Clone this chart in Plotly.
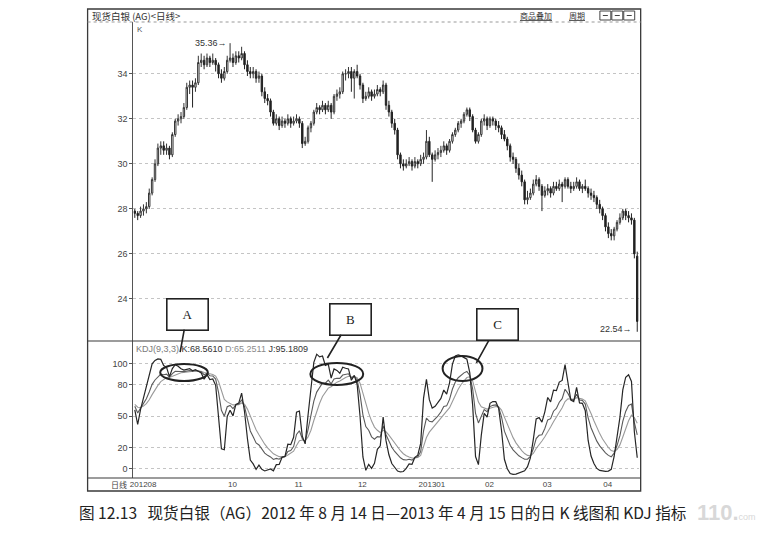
import plotly.graph_objects as go

# page body has an 8px margin: the figure is sized to fit the 776x533 window exactly
OFF = 8
FW, FH = 776 - 2 * OFF, 533 - 2 * OFF

# ---------------- data ----------------
month_ticks = [0, 34, 57, 79, 100, 123, 143, 164]
month_labels = ["201208", "10", "11", "12", "201301", "02", "03", "04"]
price_ticks = [24, 26, 28, 30, 32, 34]
kdj_ticks = [0, 20, 50, 80, 100]

opens = [27.9, 27.8, 27.7, 27.9, 28.0, 28.1, 28.7, 29.3, 30.0, 30.7, 30.8, 30.6, 30.7, 30.4, 31.3, 31.9, 32.0, 32.1, 32.5, 33.4,
         33.5, 33.4, 33.6, 34.5, 34.6, 34.4, 34.7, 34.5, 34.6, 34.4, 34.0, 33.8, 34.1, 34.6, 34.7, 34.5, 34.8, 34.7, 34.9, 34.4,
         34.1, 34.0, 34.1, 33.8, 33.9, 33.2, 32.9, 32.8, 32.3, 31.8, 32.0, 31.7, 31.9, 31.8, 32.0, 31.8, 31.9, 32.0, 31.8, 30.9,
         31.0, 31.6, 31.8, 32.3, 32.5, 32.4, 32.6, 32.4, 32.6, 32.3, 33.0, 33.1, 33.2, 34.0, 34.0, 34.1, 33.8, 34.1, 33.9, 33.5,
         32.9, 33.0, 33.2, 33.0, 33.1, 33.3, 33.2, 33.5, 32.6, 32.3, 31.8, 31.5, 30.4, 30.0, 29.9, 30.0, 30.1, 29.9, 30.1, 30.0,
         30.2, 30.3, 31.0, 30.4, 30.2, 30.4, 30.5, 30.6, 30.8, 30.6, 31.0, 31.3, 31.5, 31.8, 31.9, 32.2, 32.4, 32.1, 31.5, 31.0,
         31.3, 31.9, 32.0, 31.7, 32.0, 31.9, 31.7, 31.6, 31.3, 31.1, 30.8, 30.3, 30.2, 29.8, 29.5, 29.2, 28.4, 28.5, 28.7, 29.1,
         29.3, 29.0, 28.6, 28.8, 28.9, 28.7, 29.0, 28.9, 29.1, 29.0, 29.3, 29.0, 28.9, 29.0, 29.2, 28.9, 29.0, 28.9, 28.7, 28.6,
         28.5, 28.2, 28.0, 27.7, 27.2, 26.9, 26.8, 27.1, 27.4, 27.6, 27.9, 27.7, 27.6, 27.5, 25.9]
highs = [28.0, 27.9, 28.1, 28.2, 28.3, 28.9, 29.4, 30.2, 30.9, 31.0, 31.0, 30.9, 30.8, 31.4, 32.0, 32.2, 32.3, 32.7, 33.6, 33.7,
         33.7, 33.8, 34.8, 34.9, 34.8, 34.9, 34.8, 34.9, 34.7, 34.5, 34.2, 34.3, 34.8, 35.36, 34.9, 35.0, 35.0, 35.2, 35.0, 34.6,
         34.3, 34.3, 34.2, 34.1, 34.0, 33.4, 33.1, 32.9, 32.4, 32.2, 32.1, 32.1, 32.0, 32.2, 32.1, 32.1, 32.2, 32.1, 31.9, 31.2,
         31.7, 31.9, 32.4, 32.7, 32.6, 32.8, 32.7, 32.8, 32.7, 33.1, 33.3, 33.4, 34.1, 34.2, 34.3, 34.3, 34.2, 34.4, 34.0, 33.6,
         33.2, 33.4, 33.3, 33.3, 33.5, 33.4, 33.7, 33.6, 32.8, 32.4, 32.0, 31.6, 30.5, 30.2, 30.2, 30.3, 30.2, 30.3, 30.2, 30.4,
         30.5, 31.5, 31.2, 30.5, 30.6, 30.7, 30.8, 31.0, 30.9, 31.1, 31.4, 31.6, 31.9, 32.0, 32.3, 32.5, 32.5, 32.2, 31.6, 31.4,
         32.0, 32.2, 32.1, 32.1, 32.1, 32.0, 31.9, 31.7, 31.5, 31.2, 30.9, 30.5, 30.3, 30.0, 29.7, 29.3, 28.8, 28.9, 29.3, 29.5,
         29.4, 29.1, 29.0, 29.1, 29.0, 29.2, 29.2, 29.3, 29.2, 29.4, 29.4, 29.2, 29.2, 29.4, 29.3, 29.1, 29.3, 29.0, 28.9, 28.8,
         28.6, 28.4, 28.1, 27.8, 27.4, 27.1, 27.2, 27.5, 27.8, 28.0, 28.0, 27.9, 27.8, 27.6, 26.1]
lows = [27.6, 27.5, 27.6, 27.7, 27.8, 28.0, 28.6, 29.2, 29.9, 30.4, 30.4, 30.4, 30.2, 30.3, 31.2, 31.7, 31.8, 32.0, 32.4, 33.1,
        32.5, 33.2, 33.5, 34.3, 34.2, 34.3, 34.3, 34.4, 34.1, 33.8, 33.6, 33.7, 34.0, 34.5, 34.3, 34.4, 34.5, 34.6, 34.2, 33.9,
        33.8, 33.8, 33.6, 33.6, 33.0, 32.7, 32.6, 32.1, 31.7, 31.7, 31.5, 31.6, 31.6, 31.7, 31.6, 31.7, 31.8, 31.6, 30.7, 30.8,
        30.9, 31.4, 31.7, 32.2, 32.2, 32.3, 32.2, 32.3, 32.0, 32.2, 32.8, 32.9, 33.1, 33.7, 33.8, 33.2, 32.9, 33.8, 33.3, 32.7,
        32.8, 32.9, 32.8, 32.9, 33.0, 33.0, 33.1, 32.4, 32.1, 31.6, 31.3, 30.2, 29.8, 29.7, 29.8, 29.9, 29.7, 29.8, 29.8, 29.9,
        30.0, 30.2, 30.3, 29.2, 30.1, 30.2, 30.3, 30.5, 30.4, 30.5, 30.9, 31.2, 31.4, 31.6, 31.8, 32.1, 31.9, 31.4, 30.9, 30.9,
        31.2, 31.7, 31.5, 31.6, 31.7, 31.5, 31.4, 31.1, 31.0, 30.6, 30.1, 30.0, 29.6, 29.3, 29.0, 28.2, 28.2, 28.4, 28.6, 29.0,
        28.8, 27.9, 28.5, 28.6, 28.5, 28.6, 28.8, 28.8, 28.3, 28.9, 28.9, 28.7, 28.8, 28.9, 28.8, 28.7, 28.8, 28.5, 28.4, 28.3,
        28.0, 27.8, 27.5, 27.0, 26.7, 26.6, 26.6, 27.0, 27.3, 27.5, 27.5, 27.4, 27.3, 25.8, 22.54]
closes = [27.8, 27.7, 27.9, 28.0, 28.1, 28.7, 29.3, 30.0, 30.7, 30.8, 30.6, 30.7, 30.4, 31.3, 31.9, 32.0, 32.1, 32.5, 33.4, 33.5,
          33.4, 33.6, 34.5, 34.6, 34.4, 34.7, 34.5, 34.6, 34.4, 34.0, 33.8, 34.1, 34.6, 34.7, 34.5, 34.8, 34.7, 34.9, 34.4, 34.1,
          34.0, 34.1, 33.8, 33.9, 33.2, 32.9, 32.8, 32.3, 31.8, 32.0, 31.7, 31.9, 31.8, 32.0, 31.8, 31.9, 32.0, 31.8, 30.9, 31.0,
          31.6, 31.8, 32.3, 32.5, 32.4, 32.6, 32.4, 32.6, 32.3, 33.0, 33.1, 33.2, 34.0, 34.0, 34.1, 33.8, 34.1, 33.9, 33.5, 32.9,
          33.0, 33.2, 33.0, 33.1, 33.3, 33.2, 33.5, 32.6, 32.3, 31.8, 31.5, 30.4, 30.0, 29.9, 30.0, 30.1, 29.9, 30.1, 30.0, 30.2,
          30.3, 31.0, 30.4, 30.2, 30.4, 30.5, 30.6, 30.8, 30.6, 31.0, 31.3, 31.5, 31.8, 31.9, 32.2, 32.4, 32.1, 31.5, 31.0, 31.3,
          31.9, 32.0, 31.7, 32.0, 31.9, 31.7, 31.6, 31.3, 31.1, 30.8, 30.3, 30.2, 29.8, 29.5, 29.2, 28.4, 28.5, 28.7, 29.1, 29.3,
          29.0, 28.6, 28.8, 28.9, 28.7, 29.0, 28.9, 29.1, 29.0, 29.3, 29.0, 28.9, 29.0, 29.2, 28.9, 29.0, 28.9, 28.7, 28.6, 28.5,
          28.2, 28.0, 27.7, 27.2, 26.9, 26.8, 27.1, 27.4, 27.6, 27.9, 27.7, 27.6, 27.5, 26.0, 23.0]

# KDJ(9,3,3) seed values read at the left edge of the lower panel
K_START, D_START = 64.0, 62.0

n = len(closes)
idx = list(range(n))

# ---------------- KDJ(9,3,3) derived from the prices ----------------
K, D, J = [], [], []
k, d = K_START, D_START
for i in range(n):
    lo = min(lows[max(0, i - 8):i + 1])
    hi = max(highs[max(0, i - 8):i + 1])
    rsv = (closes[i] - lo) / (hi - lo) * 100 if hi > lo else 50
    k = (2 * k + rsv) / 3
    d = (2 * d + k) / 3
    K.append(k); D.append(d); J.append(3 * k - 2 * d)

# ---------------- layout geometry (window pixels) ----------------
def px(x): return (x - OFF) / FW
def py(y): return 1 - (y - OFF) / FH

X0, X1 = 130, 638
FRAME_L, FRAME_R, FRAME_T, FRAME_B = 84, 640, 9, 491
P_TOP, P_BOT = 22, 341
K_TOP, K_BOT = 341, 478

tickfont = dict(family="Liberation Sans, Arial", size=9, color="#444")
grid = dict(showgrid=True, gridcolor="#c4c4c4", griddash="dot", gridwidth=1)

fig = go.Figure()
fig.add_trace(go.Candlestick(
    x=idx, open=opens, high=highs, low=lows, close=closes,
    increasing=dict(line=dict(color="#333333", width=1), fillcolor="#ffffff"),
    decreasing=dict(line=dict(color="#222222", width=1), fillcolor="#222222"),
    whiskerwidth=0, xaxis="x", yaxis="y", showlegend=False, hoverinfo="skip"))

fig.add_trace(go.Scatter(x=idx, y=D, mode="lines", line=dict(color="#9a9a9a", width=1.1),
                         xaxis="x2", yaxis="y2", showlegend=False, hoverinfo="skip"))
fig.add_trace(go.Scatter(x=idx, y=K, mode="lines", line=dict(color="#5a5a5a", width=1.1),
                         xaxis="x2", yaxis="y2", showlegend=False, hoverinfo="skip"))
fig.add_trace(go.Scatter(x=idx, y=J, mode="lines", line=dict(color="#262626", width=1.2),
                         xaxis="x2", yaxis="y2", showlegend=False, hoverinfo="skip"))

xr = [-0.5, n - 0.5]
fig.update_layout(
    width=FW, height=FH, margin=dict(l=0, r=0, t=0, b=0, pad=0),
    paper_bgcolor="white", plot_bgcolor="white", showlegend=False,
    xaxis=dict(domain=[px(X0), px(X1)], range=xr, anchor="y", showticklabels=False,
               showgrid=False, zeroline=False, rangeslider=dict(visible=False), fixedrange=True),
    yaxis=dict(domain=[py(P_BOT), py(P_TOP)], range=[22.13, 36.3], tickvals=price_ticks,
               ticks="outside", ticklen=3, tickcolor="#555", tickfont=tickfont,
               showline=True, linecolor="#555", linewidth=1, zeroline=False, **grid),
    xaxis2=dict(domain=[px(X0), px(X1)], range=xr, anchor="y2", tickvals=month_ticks,
                ticktext=month_labels, ticks="", showgrid=False, zeroline=False,
                ticklabelposition="outside right", ticklabelshift=-5,
                tickfont=dict(family="Liberation Sans, Arial", size=8, color="#444")),
    yaxis2=dict(domain=[py(K_BOT), py(K_TOP)], range=[-9, 121.4], tickvals=kdj_ticks,
                ticks="outside", ticklen=3, tickcolor="#555", tickfont=tickfont,
                showline=True, linecolor="#555", linewidth=1, zeroline=False, **grid),
)

shapes = []
shapes.append(dict(type="rect", xref="paper", yref="paper", x0=px(FRAME_L), x1=px(FRAME_R),
                   y0=py(FRAME_B), y1=py(FRAME_T), line=dict(color="#3a3a3a", width=1.3)))
shapes.append(dict(type="line", xref="paper", yref="paper", x0=px(FRAME_L), x1=px(FRAME_R),
                   y0=py(P_TOP), y1=py(P_TOP), line=dict(color="#999", width=1, dash="dot")))
for yy in (K_TOP, K_BOT):
    shapes.append(dict(type="line", xref="paper", yref="paper", x0=px(FRAME_L), x1=px(FRAME_R),
                       y0=py(yy), y1=py(yy), line=dict(color="#3a3a3a", width=1.2)))
for bx in (599, 611, 623):
    shapes.append(dict(type="rect", xref="paper", yref="paper", x0=px(bx), x1=px(bx + 11),
                       y0=py(20), y1=py(11), line=dict(color="#444", width=1)))
    shapes.append(dict(type="line", xref="paper", yref="paper", x0=px(bx + 3), x1=px(bx + 8),
                       y0=py(15.5), y1=py(15.5), line=dict(color="#444", width=1)))

ellipses = [(8.8, 25.3, 83.3, 99.5), (60.8, 79.1, 79.5, 100.5), (106.6, 120.4, 83.3, 107.1)]
for x0, x1, y0, y1 in ellipses:
    shapes.append(dict(type="circle", xref="x2", yref="y2", x0=x0, x1=x1, y0=y0, y1=y1,
                       line=dict(color="#222", width=2)))
fig.update_layout(shapes=shapes)

cjk = "Noto Sans CJK SC"
ann = []
ann.append(dict(xref="paper", yref="paper", x=px(86), y=py(15.5), xanchor="left", yanchor="middle",
                text="现货白银 (AG)&lt;日线&gt;", showarrow=False, font=dict(family=cjk, size=9.5, color="#333")))
ann.append(dict(xref="paper", yref="paper", x=px(517), y=py(15.5), xanchor="left", yanchor="middle",
                text="<span style='text-decoration:underline'>商品叠加</span>", showarrow=False,
                font=dict(family=cjk, size=8, color="#333")))
ann.append(dict(xref="paper", yref="paper", x=px(566), y=py(15.5), xanchor="left", yanchor="middle",
                text="<span style='text-decoration:underline'>周期</span>", showarrow=False,
                font=dict(family=cjk, size=8, color="#333")))
ann.append(dict(xref="paper", yref="paper", x=px(132), y=py(30), xanchor="left", yanchor="middle",
                text="K", showarrow=False, font=dict(family="Liberation Sans", size=8, color="#555")))
ann.append(dict(xref="paper", yref="paper", x=px(131), y=py(349), xanchor="left", yanchor="middle",
                text="<span style='color:#7a7a7a'>KDJ(9,3,3)</span> K:68.5610 "
                     "<span style='color:#8a8a8a'>D:65.2511</span> J:95.1809",
                showarrow=False, font=dict(family="Liberation Sans", size=9, color="#333")))
ann.append(dict(xref="paper", yref="paper", x=px(126), y=py(484), xanchor="right", yanchor="middle",
                text="日线", showarrow=False, font=dict(family=cjk, size=8, color="#444")))

imax = max(idx, key=lambda i: highs[i])
imin = min(idx, key=lambda i: lows[i])
ann.append(dict(xref="x", yref="y", x=imax, y=highs[imax], xanchor="right", yanchor="middle",
                xshift=-1, text="35.36→", showarrow=False,
                font=dict(family="Liberation Sans", size=9, color="#333")))
ann.append(dict(xref="x", yref="y", x=imin, y=lows[imin], xanchor="right", yanchor="middle",
                xshift=-3, yshift=3, text="22.54→", showarrow=False,
                font=dict(family="Liberation Sans", size=9, color="#333")))

callouts = [("A", 15.7, 110.9, 7, -38), ("B", 66.7, 105.2, 23, -39), ("C", 118.3, 100.5, 21, -38)]
for t, x, y, ax, ay in callouts:
    ann.append(dict(xref="x2", yref="y2", x=x, y=y, ax=ax, ay=ay, text=t, showarrow=True,
                    arrowhead=0, arrowwidth=1.6, arrowcolor="#222", standoff=0,
                    bordercolor="#222", borderwidth=1.6, bgcolor="white", width=38, height=28,
                    font=dict(family="Liberation Serif", size=13, color="#222")))

ann.append(dict(xref="paper", yref="paper", x=px(380), y=py(512), xanchor="center", yanchor="middle",
                text="图 12.13   现货白银（AG）2012 年 8 月 14 日—2013 年 4 月 15 日的日 K 线图和 KDJ 指标",
                showarrow=False, font=dict(family=cjk, size=15.6, color="#222")))
ann.append(dict(xref="paper", yref="paper", x=px(726), y=py(512), xanchor="center", yanchor="middle",
                text="<b>110.</b><span style='font-size:9px'>com</span>", showarrow=False,
                font=dict(family="Liberation Sans", size=22, color="#d8d8d8")))
fig.update_layout(annotations=ann)

fig.write_html("out.html")
